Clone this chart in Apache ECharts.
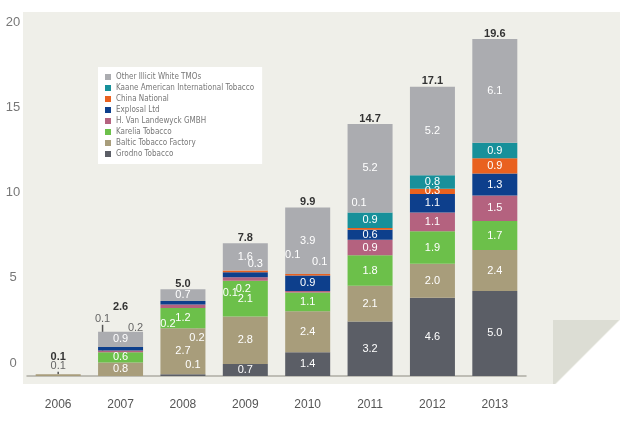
<!DOCTYPE html>
<html>
<head>
<meta charset="utf-8">
<script src="https://cdn.jsdelivr.net/npm/echarts@6/dist/echarts.min.js"></script>
<style>
html, body { margin: 0; padding: 0; background: #fff; }
#main { width: 630px; height: 421px; }
</style>
</head>
<body>
<div id="main"></div>
<script>
var years = ['2006', '2007', '2008', '2009', '2010', '2011', '2012', '2013'];

var grodno       = [0,   0,   0.1, 0.7, 1.4, 3.2, 4.6, 5.0];
var baltic       = [0.1, 0.8, 2.7, 2.8, 2.4, 2.1, 2.0, 2.4];
var karelia      = [0,   0.6, 1.2, 2.1, 1.1, 1.8, 1.9, 1.7];
var vanLandewyck = [0,   0.1, 0.2, 0.2, 0.1, 0.9, 1.1, 1.5];
var explosal     = [0,   0.2, 0.2, 0.3, 0.9, 0.6, 1.1, 1.3];
var chinaNat     = [0,   0,   0,   0.1, 0.1, 0.1, 0.3, 0.9];
var kaane        = [0,   0,   0,   0,   0,   0.9, 0.8, 0.9];
var otherTmo     = [0,   0.9, 0.7, 1.6, 3.9, 5.2, 5.2, 6.1];
var totals       = [0.1, 2.6, 5.0, 7.8, 9.9, 14.7, 17.1, 19.6];

var NARROW = '"Liberation Sans Narrow", "DejaVu Sans Condensed", sans-serif';
var SANS = '"Liberation Sans", Arial, sans-serif';

// small segments whose value sits beside the bar with a leader line
// [dx, dy, darkText]
var callouts = {
    'Baltic Tobacco Factory': { '2006': [0, -9, true] },
    'Grodno Tobacco': { '2008': [10, -10] },
    'H. Van Landewyck GMBH': {
        '2007': [-18, -32, true], '2008': [-15, 18], '2009': [-2, 10], '2010': [-15, -37]
    },
    'Explosal Ltd': { '2007': [15, -21, true], '2008': [14, 35], '2009': [10, -11] },
    'China National': { '2009': [-15, 22], '2010': [12, -13], '2011': [-11, -26] }
};

// extra lift for totals that sit above callouts
var totalLift = { '2006': 12, '2007': 19 };

function buildData(name, values) {
    return values.map(function (v, i) {
        if (!v) return '-';
        var c = callouts[name] && callouts[name][years[i]];
        if (!c) return v;
        return {
            value: v,
            label: { color: c[2] ? '#666' : '#fff' },
            labelLine: {
                show: true,
                lineStyle: { color: c[2] ? '#555' : '#fff', width: 1.5 }
            }
        };
    });
}

function makeLayout(name) {
    return function (params) {
        var c = callouts[name] && callouts[name][years[params.dataIndex]];
        return c ? { dx: c[0], dy: c[1] } : {};
    };
}

var stackDefs = [
    { name: 'Grodno Tobacco', color: '#5b5e66', values: grodno },
    { name: 'Baltic Tobacco Factory', color: '#a89d7b', values: baltic },
    { name: 'Karelia Tobacco', color: '#6cc04a', values: karelia },
    { name: 'H. Van Landewyck GMBH', color: '#b4627f', values: vanLandewyck },
    { name: 'Explosal Ltd', color: '#0d3f8c', values: explosal },
    { name: 'China National', color: '#e9611f', values: chinaNat },
    { name: 'Kaane American International Tobacco', color: '#17909a', values: kaane },
    { name: 'Other Illicit White TMOs', color: '#abacb0', values: otherTmo }
];

var series = stackDefs.map(function (d) {
    return {
        name: d.name,
        type: 'bar',
        stack: 'all',
        barWidth: 45,
        itemStyle: { color: d.color },
        label: {
            show: true,
            position: 'inside',
            color: '#fff',
            fontSize: 11,
            fontFamily: SANS,
            formatter: function (p) { return p.value.toFixed(1); }
        },
        labelLayout: makeLayout(d.name),
        data: buildData(d.name, d.values)
    };
});

series.push({
    name: 'Total',
    type: 'bar',
    stack: 'all',
    barWidth: 45,
    itemStyle: { color: 'transparent' },
    label: {
        show: true,
        position: 'top',
        distance: 0,
        color: '#333',
        fontSize: 11,
        fontWeight: 'bold',
        fontFamily: SANS,
        formatter: function (p) { return totals[p.dataIndex].toFixed(1); }
    },
    data: totals.map(function (t, i) {
        var lift = totalLift[years[i]] || 0;
        return { value: 0, label: { offset: [0, -lift] } };
    })
});

var legendOrder = stackDefs.map(function (d) { return d.name; }).reverse();

var dom = document.getElementById('main');
var myChart = echarts.init(dom);
var option = {
    animation: false,
    backgroundColor: '#fff',
    graphic: [
        {
            type: 'polygon',
            silent: true,
            z: -10,
            shape: { points: [[23, 12], [620, 12], [620, 320], [556, 384], [23, 384]] },
            style: { fill: '#efefe9' }
        },
        {
            type: 'polygon',
            silent: true,
            z: -9,
            shape: { points: [[553, 320], [619, 320], [555, 384], [553, 384]] },
            style: { fill: '#dcddd4' }
        }
    ],
    legend: {
        data: legendOrder,
        orient: 'vertical',
        left: 98,
        top: 67,
        backgroundColor: '#fff',
        padding: [6, 8, 6, 7],
        itemWidth: 6,
        itemHeight: 6,
        itemGap: 3,
        icon: 'rect',
        textStyle: { fontSize: 8, color: '#777', fontFamily: NARROW }
    },
    grid: {
        left: 27,
        right: 104,
        top: 35.6,
        bottom: 45,
        outerBoundsMode: 'none'
    },
    xAxis: {
        type: 'category',
        data: years,
        axisLine: { lineStyle: { color: '#aeada4', width: 1.5 } },
        axisTick: { show: false },
        axisLabel: { color: '#555', fontSize: 12, margin: 23, fontFamily: SANS }
    },
    yAxis: {
        type: 'value',
        min: 0,
        max: 20,
        interval: 5,
        splitLine: { show: false },
        axisLine: { show: false },
        axisTick: { show: false },
        axisLabel: {
            color: '#777',
            fontSize: 13,
            fontFamily: SANS,
            align: 'center',
            verticalAlign: 'bottom',
            lineHeight: 26,
            margin: 14
        }
    },
    series: series
};
myChart.setOption(option, true);
</script>
</body>
</html>
